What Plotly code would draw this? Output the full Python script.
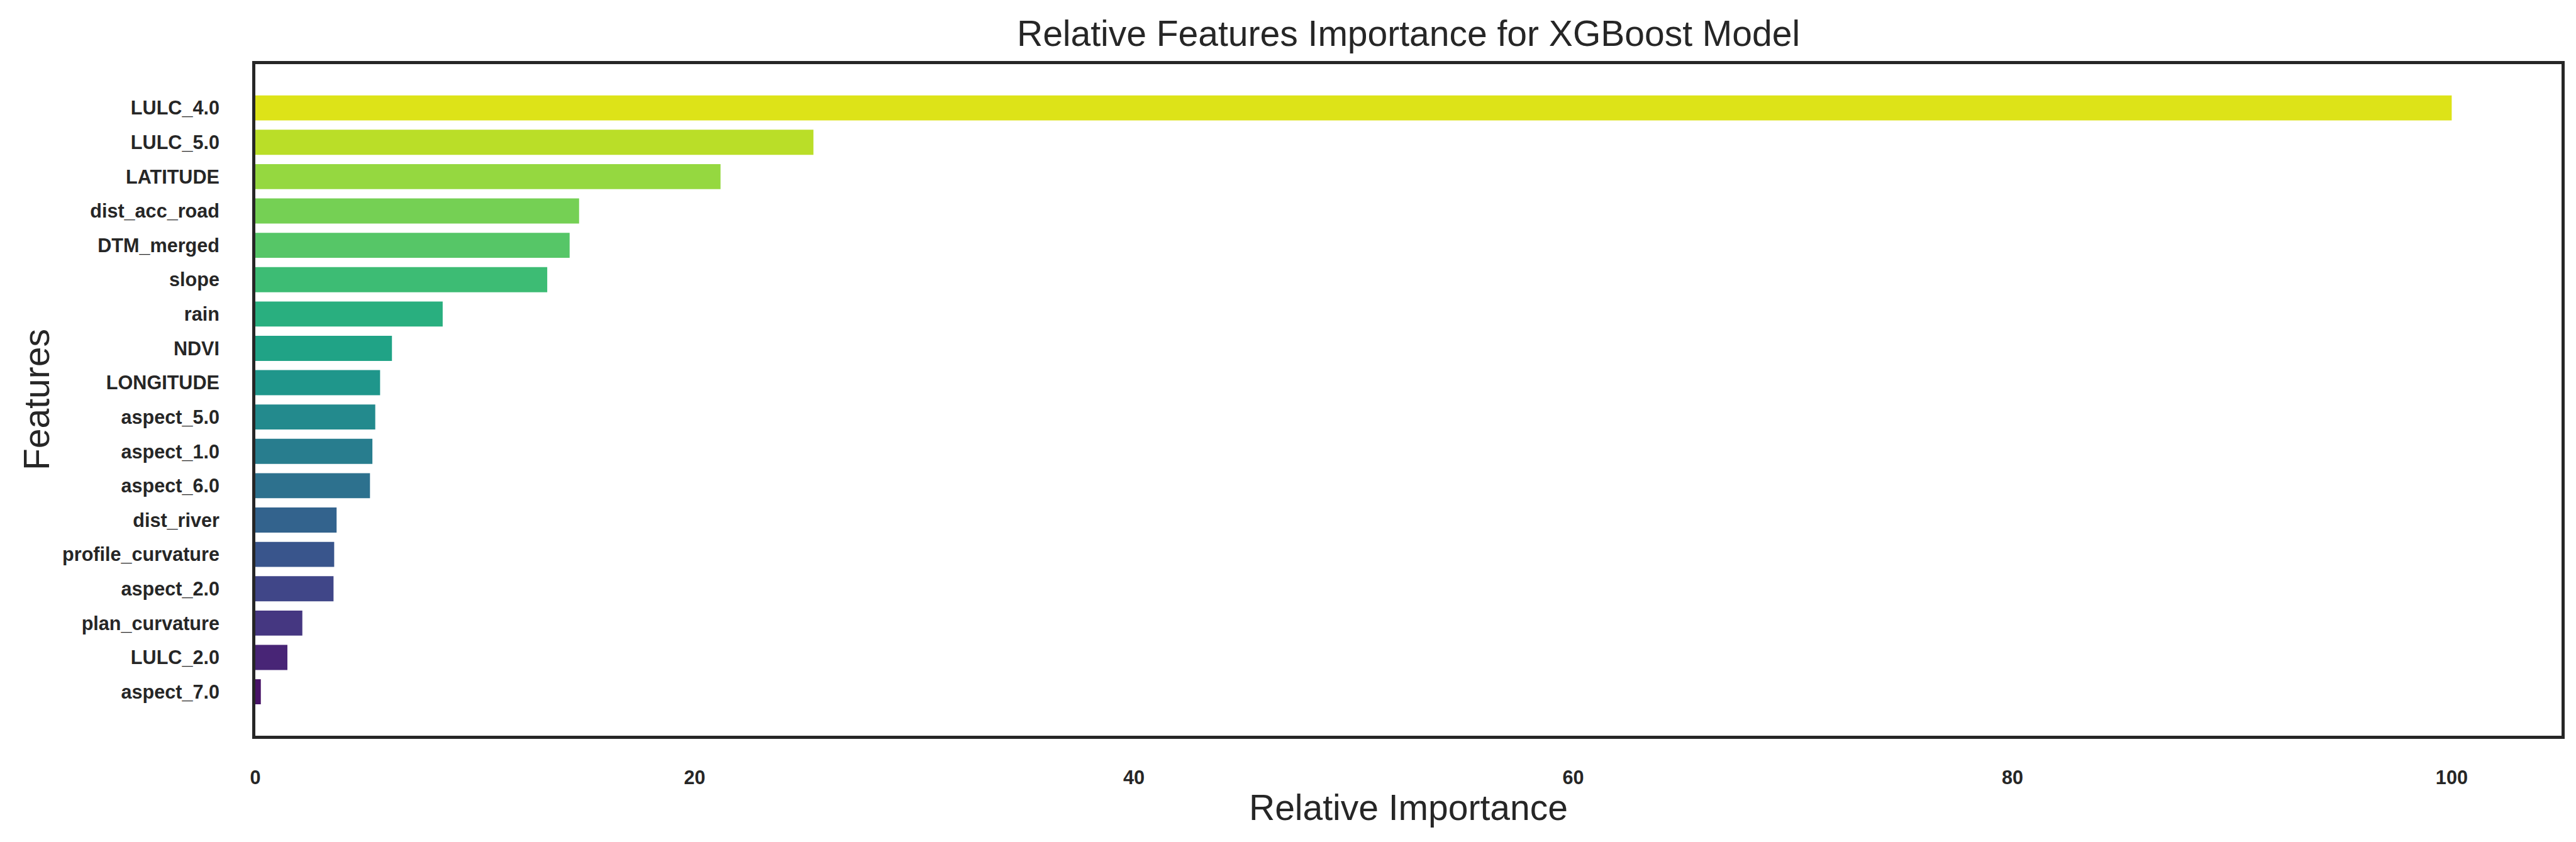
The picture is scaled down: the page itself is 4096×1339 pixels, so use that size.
import plotly.graph_objects as go

features = ["LULC_4.0", "LULC_5.0", "LATITUDE", "dist_acc_road", "DTM_merged", "slope",
            "rain", "NDVI", "LONGITUDE", "aspect_5.0", "aspect_1.0", "aspect_6.0",
            "dist_river", "profile_curvature", "aspect_2.0", "plan_curvature",
            "LULC_2.0", "aspect_7.0"]
importance = [100.0, 25.41, 21.18, 14.74, 14.31, 13.29, 8.53, 6.22, 5.68, 5.46, 5.33,
              5.22, 3.70, 3.59, 3.56, 2.14, 1.46, 0.25]
x_ticks = [0, 20, 40, 60, 80, 100]
bar_colors = ["#dde318", "#bade28", "#95d840", "#75d054", "#56c667", "#3dbc74",
              "#29af7f", "#20a386", "#1f968b", "#238a8d", "#287d8e", "#2d718e",
              "#33638d", "#39558c", "#404688", "#453781", "#482576", "#481467"]

TXT = "#262626"
FONT = "Liberation Sans, Arial, sans-serif"

fig = go.Figure(go.Bar(
    x=importance, y=features, orientation="h",
    marker=dict(color=bar_colors, line=dict(width=0)),
    width=0.73,
))

W, H = 4096, 1339
L, R, T, B = 398, 4065, 94, 1162
fig.update_layout(
    width=W, height=H,
    margin=dict(l=L, r=W - R, t=T, b=H - B),
    plot_bgcolor="white", paper_bgcolor="white",
    showlegend=False,
    font=dict(family=FONT, color=TXT),
)
fig.update_xaxes(
    range=[0, 105], tickvals=x_ticks, ticks="", showgrid=False, zeroline=False,
    showline=True, mirror=True, linecolor=TXT, linewidth=4.8,
    tickfont=dict(family=FONT, size=30.6, color=TXT, weight="bold"),
    ticklabelstandoff=35,
)
fig.update_yaxes(
    type="category", range=[18.28, -1.275], ticks="", showgrid=False, zeroline=False,
    showline=True, mirror=True, linecolor=TXT, linewidth=4.8,
    tickfont=dict(family=FONT, size=30.6, color=TXT, weight="bold"),
    ticklabelstandoff=46,
)

ph = B - T
pw = R - L
def py(p):
    return (B - p) / ph
def px(p):
    return (p - L) / pw

fig.add_annotation(text="Relative Features Importance for XGBoost Model",
                   xref="paper", yref="paper", x=0.5, y=py(45),
                   xanchor="center", yanchor="middle", showarrow=False,
                   font=dict(family=FONT, size=57, color=TXT))
fig.add_annotation(text="Relative Importance",
                   xref="paper", yref="paper", x=0.5, y=py(1276),
                   xanchor="center", yanchor="middle", showarrow=False,
                   font=dict(family=FONT, size=57, color=TXT))
fig.add_annotation(text="Features", textangle=-90,
                   xref="paper", yref="paper", x=px(50), y=0.5,
                   xanchor="center", yanchor="middle", showarrow=False,
                   font=dict(family=FONT, size=57, color=TXT))

fig.write_html("out.html")
